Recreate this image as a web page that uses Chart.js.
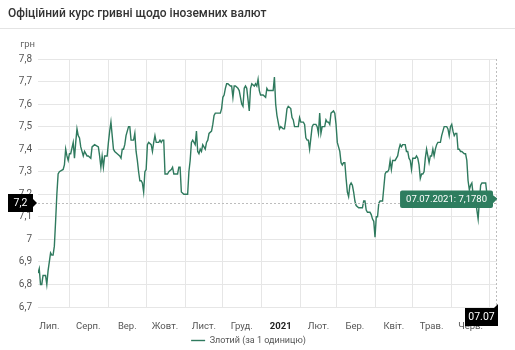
<!DOCTYPE html>
<html><head><meta charset="utf-8">
<script src="https://cdn.jsdelivr.net/npm/chart.js@4.4.0/dist/chart.umd.min.js"></script>
<style>html,body{margin:0;padding:0;background:#fff;overflow:hidden}canvas{display:block}</style>
</head><body>
<canvas id="c" width="515" height="350"></canvas>
<script>
const titleText = 'Офіційний курс гривні щодо іноземних валют';
const unitLabel = 'грн';
const seriesLabel = 'Злотий (за 1 одиницю)';

const dates = [
'2020-07-07','2020-07-08','2020-07-09','2020-07-10','2020-07-11','2020-07-13','2020-07-14','2020-07-15','2020-07-17','2020-07-18','2020-07-19','2020-07-20','2020-07-21','2020-07-22','2020-07-23','2020-07-24','2020-07-27','2020-07-28','2020-07-29','2020-07-30','2020-07-31',
'2020-08-01','2020-08-02','2020-08-04','2020-08-05','2020-08-06','2020-08-07','2020-08-08','2020-08-09','2020-08-10','2020-08-11','2020-08-12','2020-08-13','2020-08-15','2020-08-16','2020-08-18','2020-08-19','2020-08-21','2020-08-24','2020-08-25','2020-08-26','2020-08-27','2020-08-28','2020-08-29','2020-08-31',
'2020-09-01','2020-09-02','2020-09-03','2020-09-04','2020-09-05','2020-09-06','2020-09-08','2020-09-10','2020-09-11','2020-09-12','2020-09-13','2020-09-14','2020-09-15','2020-09-17','2020-09-18','2020-09-19','2020-09-21','2020-09-22','2020-09-23','2020-09-24','2020-09-25','2020-09-26','2020-09-27','2020-09-28','2020-09-29','2020-09-30',
'2020-10-01','2020-10-02','2020-10-03','2020-10-05','2020-10-06','2020-10-07','2020-10-08','2020-10-09','2020-10-11','2020-10-12','2020-10-13','2020-10-14','2020-10-15','2020-10-16','2020-10-18','2020-10-19','2020-10-21','2020-10-22','2020-10-23','2020-10-24','2020-10-26','2020-10-27','2020-10-28','2020-10-29','2020-10-31',
'2020-11-02','2020-11-03','2020-11-04','2020-11-05','2020-11-06','2020-11-07','2020-11-09','2020-11-10','2020-11-11','2020-11-12','2020-11-13','2020-11-14','2020-11-15','2020-11-17','2020-11-18','2020-11-19','2020-11-20','2020-11-22','2020-11-23','2020-11-24','2020-11-25','2020-11-27','2020-11-29','2020-11-30',
'2020-12-01','2020-12-02','2020-12-03','2020-12-04','2020-12-05','2020-12-07','2020-12-08','2020-12-09','2020-12-10','2020-12-11','2020-12-13','2020-12-14','2020-12-16','2020-12-17','2020-12-18','2020-12-19','2020-12-20','2020-12-21','2020-12-22','2020-12-23','2020-12-24','2020-12-26','2020-12-27','2020-12-28','2020-12-29','2020-12-30','2020-12-31',
'2021-01-02','2021-01-04','2021-01-05','2021-01-06','2021-01-08','2021-01-09','2021-01-10','2021-01-11','2021-01-12','2021-01-13','2021-01-14','2021-01-15','2021-01-16','2021-01-18','2021-01-19','2021-01-20','2021-01-21','2021-01-22','2021-01-24','2021-01-25','2021-01-26','2021-01-27','2021-01-29','2021-01-30','2021-01-31',
'2021-02-01','2021-02-03','2021-02-04','2021-02-05','2021-02-06','2021-02-07','2021-02-08','2021-02-09','2021-02-10','2021-02-11','2021-02-13','2021-02-14','2021-02-15','2021-02-16','2021-02-17','2021-02-18','2021-02-20','2021-02-21','2021-02-22','2021-02-23','2021-02-24','2021-02-25','2021-02-27','2021-02-28',
'2021-03-01','2021-03-02','2021-03-03','2021-03-04','2021-03-05','2021-03-06','2021-03-07','2021-03-08','2021-03-09','2021-03-10','2021-03-11','2021-03-12','2021-03-13','2021-03-14','2021-03-15','2021-03-16','2021-03-17','2021-03-19','2021-03-21','2021-03-22','2021-03-23','2021-03-24','2021-03-25','2021-03-26','2021-03-28','2021-03-29','2021-03-30','2021-03-31',
'2021-04-01','2021-04-02','2021-04-03','2021-04-04','2021-04-05','2021-04-07','2021-04-08','2021-04-09','2021-04-10','2021-04-11','2021-04-12','2021-04-13','2021-04-14','2021-04-15','2021-04-17','2021-04-18','2021-04-19','2021-04-20','2021-04-21','2021-04-22','2021-04-23','2021-04-25','2021-04-26','2021-04-27','2021-04-28','2021-04-29','2021-04-30',
'2021-05-01','2021-05-03','2021-05-04','2021-05-05','2021-05-06','2021-05-07','2021-05-08','2021-05-09','2021-05-10','2021-05-11','2021-05-12','2021-05-13','2021-05-14','2021-05-15','2021-05-16','2021-05-17','2021-05-18','2021-05-19','2021-05-20','2021-05-21','2021-05-23','2021-05-24','2021-05-25','2021-05-26','2021-05-27','2021-05-28','2021-05-29','2021-05-30','2021-05-31',
'2021-06-01','2021-06-02','2021-06-03','2021-06-04','2021-06-05','2021-06-06','2021-06-07','2021-06-08','2021-06-09','2021-06-11','2021-06-12','2021-06-13','2021-06-14','2021-06-15','2021-06-16','2021-06-17','2021-06-18','2021-06-19','2021-06-20','2021-06-22','2021-06-23','2021-06-24','2021-06-25','2021-06-27','2021-06-28','2021-06-29',
'2021-07-01','2021-07-04','2021-07-07'
];

const rates = [
6.85,6.87,6.80,6.80,6.84,6.84,6.80,6.86,6.94,6.93,6.93,6.97,7.08,7.20,7.29,7.30,7.31,7.33,7.40,7.37,7.35,
7.38,7.38,7.43,7.36,7.43,7.49,7.46,7.45,7.41,7.39,7.37,7.39,7.37,7.37,7.36,7.41,7.42,7.41,7.37,7.32,7.37,7.32,7.37,7.37,
7.43,7.48,7.52,7.46,7.40,7.39,7.38,7.37,7.36,7.40,7.40,7.42,7.46,7.50,7.50,7.44,7.44,7.47,7.39,7.35,7.30,7.26,7.26,7.25,7.21,7.30,
7.31,7.42,7.43,7.42,7.39,7.43,7.46,7.43,7.43,7.44,7.43,7.44,7.44,7.29,7.29,7.30,7.31,7.32,7.29,7.29,7.29,7.32,7.32,7.21,7.20,
7.20,7.20,7.30,7.35,7.43,7.44,7.42,7.48,7.39,7.38,7.40,7.39,7.42,7.40,7.43,7.44,7.47,7.48,7.51,7.55,7.56,7.56,7.56,7.58,
7.63,7.64,7.67,7.69,7.69,7.68,7.68,7.63,7.68,7.68,7.67,7.66,7.60,7.59,7.67,7.68,7.67,7.62,7.57,7.67,7.69,7.68,7.69,7.68,7.71,7.66,7.64,
7.64,7.63,7.67,7.66,7.66,7.66,7.66,7.72,7.60,7.55,7.52,7.49,7.50,7.49,7.49,7.53,7.58,7.59,7.58,7.54,7.53,7.50,7.50,7.50,7.54,
7.52,7.52,7.51,7.45,7.44,7.44,7.40,7.45,7.50,7.51,7.51,7.50,7.47,7.56,7.47,7.50,7.50,7.53,7.52,7.52,7.51,7.56,7.57,7.56,
7.51,7.43,7.41,7.39,7.34,7.33,7.34,7.34,7.27,7.21,7.19,7.24,7.25,7.24,7.21,7.17,7.15,7.14,7.14,7.14,7.17,7.17,7.13,7.12,7.12,7.11,7.09,7.08,
7.01,7.10,7.10,7.16,7.17,7.17,7.23,7.29,7.30,7.30,7.31,7.35,7.31,7.35,7.35,7.36,7.37,7.40,7.42,7.41,7.42,7.42,7.39,7.39,7.36,7.35,7.31,
7.36,7.36,7.37,7.36,7.33,7.27,7.29,7.29,7.30,7.36,7.40,7.37,7.34,7.37,7.37,7.40,7.37,7.40,7.42,7.43,7.43,7.46,7.48,7.50,7.50,7.50,7.49,7.46,7.50,
7.51,7.48,7.46,7.47,7.47,7.40,7.40,7.39,7.39,7.38,7.38,7.35,7.26,7.22,7.24,7.25,7.20,7.17,7.17,7.09,7.17,7.24,7.25,7.25,7.25,7.20,
7.19,7.19,7.178
];

const monthLabels = ['Лип.','Серп.','Вер.','Жовт.','Лист.','Груд.','2021','Лют.','Бер.','Квіт.','Трав.','Черв.'];
const monthLabelDates = ['2020-07-16','2020-08-16','2020-09-16','2020-10-16','2020-11-16','2020-12-16','2021-01-16','2021-02-15','2021-03-16','2021-04-16','2021-05-16','2021-06-16'];
const monthStartDates = ['2020-08-01','2020-09-01','2020-10-01','2020-11-01','2020-12-01','2021-01-01','2021-02-01','2021-03-01','2021-04-01','2021-05-01','2021-06-01','2021-07-01'];
const yMin = 6.7, yMax = 7.8, yStep = 0.1;
const hoverIndex = rates.length - 1;
const cursorValue = 7.163;

const LINE = '#2f7a5e';
const t0 = Date.parse(dates[0]);
const dayOf = s => (Date.parse(s) - t0) / 86400000;
const fmtComma = (v, d) => v.toFixed(d).replace('.', ',');
const dmy = s => { const p = s.split('-'); return p[2] + '.' + p[1] + '.' + p[0]; };

Chart.defaults.font.family = 'Roboto';

const header = {
  id: 'header',
  beforeDraw(chart) {
    const ctx = chart.ctx, a = chart.chartArea;
    ctx.save();
    ctx.fillStyle = '#fff'; ctx.fillRect(0, 0, chart.width, chart.height);
    ctx.font = '500 12px Roboto'; ctx.fillStyle = '#333'; ctx.textBaseline = 'middle'; ctx.textAlign = 'left';
    ctx.fillText(titleText, 8, 14);
    ctx.fillStyle = '#e4e4e4'; ctx.fillRect(0, 28, chart.width, 1);
    ctx.font = '9.5px Roboto'; ctx.fillStyle = '#666'; ctx.textAlign = 'right';
    ctx.fillText(unitLabel, a.left - 3, a.top - 14);
    ctx.restore();
  }
};

const crosshair = {
  id: 'crosshair',
  afterDatasetsDraw(chart) {
    const {ctx, chartArea: a, scales} = chart;
    const px = Math.round(scales.x.getPixelForValue(dayOf(dates[hoverIndex])));
    const py = Math.round(scales.y.getPixelForValue(cursorValue));
    ctx.save();
    ctx.setLineDash([2, 2]); ctx.strokeStyle = '#bdbdbd'; ctx.lineWidth = 1;
    ctx.beginPath();
    ctx.moveTo(a.left, py + 0.5); ctx.lineTo(a.right, py + 0.5);
    ctx.moveTo(px - 0.5, a.top); ctx.lineTo(px - 0.5, a.bottom);
    ctx.stroke();
    ctx.restore();
  },
  afterDraw(chart) {
    const {ctx, chartArea: a, scales} = chart;
    const px = scales.x.getPixelForValue(dayOf(dates[hoverIndex]));
    const py = Math.round(scales.y.getPixelForValue(cursorValue));
    ctx.save();
    ctx.font = '10.5px Roboto'; ctx.textBaseline = 'middle'; ctx.textAlign = 'center';
    const yt = fmtComma(Math.round(cursorValue * 10) / 10, 1);
    const r = a.left - 5, w = 25, h = 18;
    ctx.fillStyle = '#000';
    ctx.fillRect(r - w, py - h / 2, w, h);
    ctx.beginPath(); ctx.moveTo(r, py - 4); ctx.lineTo(r + 4, py); ctx.lineTo(r, py + 4); ctx.closePath(); ctx.fill();
    ctx.fillStyle = '#fff'; ctx.fillText(yt, r - w / 2, py + 0.5);
    const xt = dmy(dates[hoverIndex]).slice(0, 5);
    const bw = 33, bh = 18, top = a.bottom + 1;
    ctx.fillStyle = '#000';
    ctx.fillRect(px - bw + 1, top, bw, bh);
    ctx.beginPath(); ctx.moveTo(px - 3, top); ctx.lineTo(px + 1, top - 4); ctx.lineTo(px + 1, top); ctx.closePath(); ctx.fill();
    ctx.fillStyle = '#fff'; ctx.fillText(xt, px - bw / 2 + 1, top + bh / 2 + 0.5);
    ctx.restore();
  }
};

const points = dates.map((d, i) => ({x: dayOf(d), y: rates[i]}));
const xMin = dayOf(dates[0]), xMax = dayOf(dates[dates.length - 1]);

const chart = new Chart(document.getElementById('c'), {
  type: 'line',
  data: { datasets: [{
    label: seriesLabel, data: points, xAxisID: 'x', yAxisID: 'y',
    borderColor: LINE, backgroundColor: LINE, borderWidth: 1.4, pointRadius: 0, pointHoverRadius: 0,
    pointStyle: 'line', tension: 0, fill: false
  }]},
  options: {
    responsive: false, animation: false, devicePixelRatio: 1, events: [],
    layout: { padding: { top: 59, right: 18, left: 0, bottom: 0 } },
    scales: {
      x: {
        type: 'linear', position: 'bottom', min: xMin, max: xMax,
        grid: { display: false }, border: { display: false },
        afterBuildTicks: s => { s.ticks = monthLabelDates.map(d => ({value: dayOf(d)})); },
        afterFit: s => { s.height = 24; },
        ticks: {
          autoSkip: false, maxRotation: 0, padding: 6,
          callback: (v) => { const i = monthLabelDates.findIndex(d => dayOf(d) === v); return i >= 0 ? monthLabels[i] : ''; },
          font: c => ({ size: 9.5, weight: c.tick && c.tick.label === '2021' ? 'bold' : 'normal' }),
          color: c => (c.tick && c.tick.label === '2021') ? '#222' : '#555'
        }
      },
      xg: {
        type: 'linear', position: 'bottom', min: xMin, max: xMax,
        afterBuildTicks: s => { s.ticks = monthStartDates.map(d => ({value: dayOf(d)})); },
        afterFit: s => { s.height = 0; },
        ticks: { display: false },
        grid: { color: '#e6e6e6', lineWidth: 1, drawTicks: false },
        border: { display: false }
      },
      y: {
        type: 'linear', min: yMin, max: yMax,
        afterFit: s => { s.width = 38; },
        ticks: { stepSize: yStep, padding: 6, color: '#555', font: { size: 10 },
          callback: v => { const r = Math.round(v * 10) / 10; return Number.isInteger(r) ? String(r) : fmtComma(r, 1); } },
        grid: { color: '#e6e6e6', lineWidth: 1, drawTicks: false },
        border: { display: false }
      }
    },
    plugins: {
      legend: {
        position: 'bottom', maxHeight: 19,
        labels: { color: '#555', font: { size: 9 }, padding: 5, usePointStyle: true, pointStyleWidth: 14, boxHeight: 9 }
      },
      tooltip: {
        enabled: true, position: 'nearest', xAlign: 'right', yAlign: 'center',
        backgroundColor: '#2e7d5f', bodyColor: '#fff', bodyFont: { size: 9.5 },
        displayColors: false, caretSize: 4, caretPadding: 0, cornerRadius: 2,
        padding: { left: 6, right: 6, top: 3, bottom: 3 },
        callbacks: {
          title: () => '',
          label: it => dmy(dates[it.dataIndex]) + ': ' + fmtComma(rates[it.dataIndex], 4)
        }
      }
    }
  },
  plugins: [header, crosshair]
});
chart.tooltip.setActiveElements([{datasetIndex: 0, index: hoverIndex}], {x: 0, y: 0});
chart.update();
</script>
</body></html>
